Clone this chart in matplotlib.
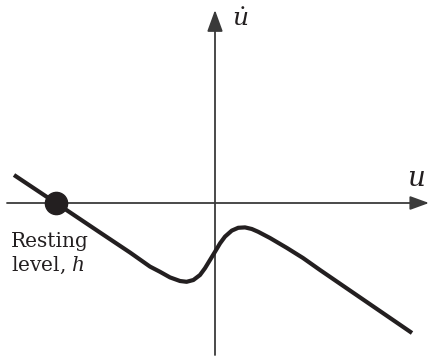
import matplotlib.pyplot as plt

plt.rcParams["mathtext.fontset"] = "dejavuserif"

# Phase plot of u-dot against u (arbitrary units)
curve_u = [-5.025, -3.975, -2.875, -2.125, -1.625, -1.375, -1.125, -0.875, -0.71,
           -0.54, -0.375, -0.25, -0.125, 0.0, 0.125, 0.25, 0.42, 0.58, 0.75,
           0.92, 1.08, 1.375, 1.80, 2.20, 2.625, 4.925]
curve_udot = [0.70, 0.0, -0.7375, -1.2375, -1.59, -1.72, -1.86, -1.95, -1.97,
              -1.925, -1.80, -1.63, -1.425, -1.22, -1.01, -0.84, -0.69, -0.62, -0.61,
              -0.65, -0.72, -0.875, -1.125, -1.375, -1.675, -3.25]
resting_u = -3.975
resting_udot = 0.0

ink = "#231f20"
axis_col = "#3a3a3a"

fig = plt.figure(figsize=(4.29, 3.58), dpi=100)
ax = fig.add_axes([0, 0, 1, 1])
ax.set_xlim(-5.375, 5.35)
ax.set_ylim(-3.875, 5.075)
ax.axis("off")

# axes with arrow heads
head = "-|>,head_length=0.55,head_width=0.2"
ax.annotate("", xy=(5.35, 0), xytext=(-5.2, 0),
            arrowprops=dict(arrowstyle=head, color=axis_col, lw=1.3,
                            mutation_scale=21, shrinkA=0, shrinkB=0))
ax.annotate("", xy=(0, 4.825), xytext=(0, -3.8),
            arrowprops=dict(arrowstyle=head, color=axis_col, lw=1.3,
                            mutation_scale=24, shrinkA=0, shrinkB=0))

# the curve and the resting point
ax.plot(curve_u, curve_udot, color=ink, lw=3.0, solid_capstyle="butt",
        solid_joinstyle="round", zorder=3)
ax.plot([resting_u], [resting_udot], "o", color=ink, ms=16, zorder=4)

# labels
ax.text(0.625, 4.6, r"$\dot{u}$", fontsize=18, color=ink, ha="center", va="center")
ax.text(5.025, 0.62, r"$u$", fontsize=20, color=ink, ha="center", va="center")
ax.text(-5.1, -1.1, "Resting", fontsize=14.5, color=ink, ha="left",
        va="baseline", family="DejaVu Serif")
ax.text(-5.1, -1.7, "level, $h$", fontsize=14.5, color=ink, ha="left",
        va="baseline", family="DejaVu Serif")

plt.savefig("out.png", dpi=100)
